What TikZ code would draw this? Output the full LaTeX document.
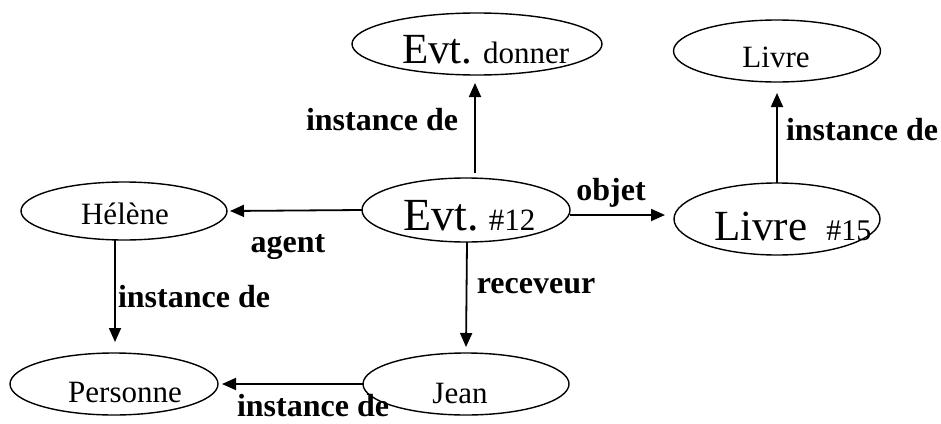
\documentclass[tikz,border=0pt]{standalone}
\usepackage{fontspec}
\setmainfont{Liberation Serif}
\usetikzlibrary{shapes.geometric,arrows.meta}

\tikzset{
  concept/.style={ellipse, draw, line width=1.4pt, inner sep=0pt, outer sep=0pt},
  caption/.style={inner sep=0pt, font=\fontsize{31}{36}\selectfont},
  rel/.style={inner sep=0pt, anchor=base, font=\fontsize{32}{38}\selectfont\bfseries},
  arr/.style={line width=1.8pt, -{Triangle[length=14pt,width=12pt]}},
}

\begin{document}
\begin{tikzpicture}[x=1pt, y=-1pt]
  \useasboundingbox (0,0) rectangle (941,423);

  % concept ellipses
  \node[concept, minimum width=250pt, minimum height=62pt] (donner)   at (477,44)  {};
  \node[concept, minimum width=207pt, minimum height=62pt] (livre)    at (777,51)  {};
  \node[concept, minimum width=206pt, minimum height=58pt] (helene)   at (124,211) {};
  \node[concept, minimum width=208pt, minimum height=64pt] (evt)      at (466,210) {};
  \node[concept, minimum width=206pt, minimum height=72pt] (livreq)   at (777,219) {};
  \node[concept, minimum width=208pt, minimum height=62pt] (personne) at (114,384) {};
  \node[concept, minimum width=206pt, minimum height=62pt] (jean)     at (466,384) {};

  % texts inside the ellipses
  \node[caption, anchor=base west] (donnerT) at (402,63)
    {{\fontsize{43}{48}\selectfont Evt.} donner};
  \node[caption, anchor=base] (livreT) at (776,67) {Livre};
  \node[caption, anchor=base] (heleneT) at (125,224) {Hélène};
  \node[caption, anchor=base west] (evtT) at (403,230)
    {{\fontsize{46}{52}\selectfont Evt.} \#12};
  \node[caption, anchor=base west] (livreqT) at (714,240)
    {{\fontsize{43}{48}\selectfont Livre}\hspace{19pt}{\fontsize{30}{36}\selectfont\#15}};
  \node[caption, anchor=base] (personneT) at (125,402) {Personne};
  \node[caption, anchor=base] (jeanT) at (460,403) {Jean};

  % relations
  \draw[arr] ([xshift=9pt,yshift=5pt]evt.north) -- ([xshift=-2pt,yshift=-8pt]donner.south);
  \draw[arr] (livreq.north) -- ([yshift=-11pt]livre.south);
  \draw[arr] (evt.west) -- ([xshift=3pt]helene.east);
  \draw[arr] ([yshift=-5pt]evt.east) -- ([xshift=-9pt,yshift=4pt]livreq.west);
  \draw[arr] ([xshift=1pt]evt.south) -- ([yshift=6pt]jean.north);
  \draw[arr] ([xshift=-9pt]helene.south) -- ([xshift=1pt,yshift=11pt]personne.north);
  \draw[arr] (jean.west) -- ([xshift=4pt]personne.east);

  % relation labels
  \node[rel] (l1) at (382,130) {instance de};
  \node[rel] (l2) at (862,140) {instance de};
  \node[rel] (l3) at (611,200) {objet};
  \node[rel] (l4) at (288,252) {agent};
  \node[rel] (l5) at (536,293) {receveur};
  \node[rel] (l6) at (194,307) {instance de};
  \node[rel] (l7) at (313,416) {instance de};
\end{tikzpicture}
\end{document}
